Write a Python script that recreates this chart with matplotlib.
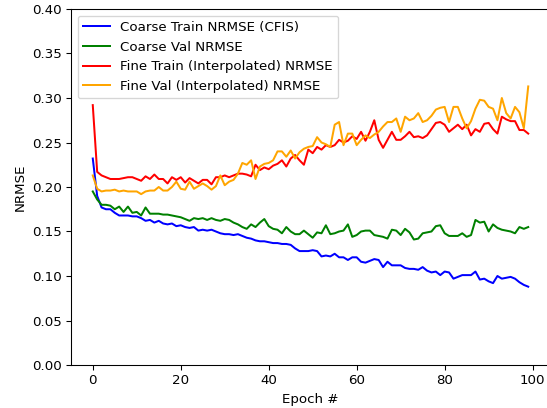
import numpy as np
import matplotlib
matplotlib.use("Agg")
import matplotlib.pyplot as plt

epochs = np.arange(100)

coarse_train = [
    0.232, 0.190, 0.177, 0.175, 0.175, 0.171, 0.168, 0.168, 0.168, 0.167,
    0.167, 0.165, 0.162, 0.163, 0.160, 0.162, 0.159, 0.158, 0.159, 0.156,
    0.157, 0.155, 0.154, 0.155, 0.151, 0.152, 0.151, 0.152, 0.150, 0.148,
    0.147, 0.147, 0.146, 0.147, 0.145, 0.143, 0.142, 0.140, 0.139, 0.139,
    0.138, 0.137, 0.137, 0.136, 0.136, 0.135, 0.131, 0.128, 0.128, 0.128,
    0.129, 0.128, 0.122, 0.123, 0.122, 0.125, 0.121, 0.121, 0.118, 0.121,
    0.121, 0.116, 0.115, 0.117, 0.119, 0.118, 0.110, 0.116, 0.112, 0.112,
    0.112, 0.109, 0.108, 0.108, 0.107, 0.110, 0.106, 0.104, 0.105, 0.101,
    0.105, 0.104, 0.097, 0.099, 0.101, 0.101, 0.101, 0.105, 0.096, 0.097,
    0.094, 0.092, 0.100, 0.097, 0.098, 0.099, 0.097, 0.093, 0.090, 0.088,
]

coarse_val = [
    0.195, 0.186, 0.180, 0.180, 0.179, 0.175, 0.178, 0.172, 0.178, 0.171,
    0.172, 0.168, 0.177, 0.170, 0.170, 0.170, 0.169, 0.169, 0.168, 0.167,
    0.166, 0.164, 0.162, 0.165, 0.164, 0.165, 0.163, 0.165, 0.163, 0.162,
    0.164, 0.163, 0.160, 0.158, 0.155, 0.153, 0.158, 0.155, 0.160, 0.164,
    0.156, 0.153, 0.152, 0.148, 0.155, 0.150, 0.147, 0.147, 0.151, 0.147,
    0.143, 0.149, 0.148, 0.157, 0.147, 0.148, 0.150, 0.151, 0.158, 0.144,
    0.146, 0.150, 0.151, 0.151, 0.146, 0.145, 0.144, 0.142, 0.152, 0.151,
    0.146, 0.153, 0.149, 0.141, 0.142, 0.148, 0.149, 0.150, 0.156, 0.157,
    0.148, 0.145, 0.145, 0.145, 0.148, 0.144, 0.146, 0.163, 0.160, 0.161,
    0.150, 0.158, 0.154, 0.152, 0.151, 0.150, 0.148, 0.155, 0.153, 0.155,
]

fine_train = [
    0.292, 0.217, 0.213, 0.211, 0.209, 0.209, 0.209, 0.210, 0.211, 0.211,
    0.209, 0.207, 0.212, 0.209, 0.214, 0.209, 0.209, 0.204, 0.211, 0.208,
    0.211, 0.205, 0.210, 0.207, 0.204, 0.208, 0.208, 0.203, 0.211, 0.211,
    0.213, 0.211, 0.213, 0.215, 0.215, 0.214, 0.212, 0.225, 0.219, 0.222,
    0.220, 0.224, 0.226, 0.230, 0.223, 0.232, 0.236, 0.230, 0.225, 0.242,
    0.238, 0.245, 0.242, 0.247, 0.245, 0.247, 0.253, 0.250, 0.252, 0.257,
    0.254, 0.262, 0.252, 0.262, 0.275, 0.253, 0.244, 0.253, 0.262, 0.253,
    0.253, 0.257, 0.262, 0.256, 0.257, 0.255, 0.258, 0.265, 0.272, 0.273,
    0.270, 0.262, 0.266, 0.270, 0.265, 0.270, 0.258, 0.265, 0.262, 0.271,
    0.272, 0.265, 0.260, 0.279, 0.276, 0.274, 0.274, 0.264, 0.264, 0.260,
]

fine_val = [
    0.213, 0.198, 0.195, 0.196, 0.196, 0.197, 0.195, 0.196, 0.195, 0.195,
    0.195, 0.192, 0.195, 0.196, 0.196, 0.200, 0.196, 0.196, 0.200, 0.206,
    0.198, 0.197, 0.206, 0.198, 0.201, 0.204, 0.201, 0.197, 0.201, 0.213,
    0.202, 0.206, 0.208, 0.215, 0.227, 0.225, 0.230, 0.209, 0.223, 0.226,
    0.227, 0.230, 0.240, 0.240, 0.234, 0.241, 0.232, 0.239, 0.243, 0.245,
    0.246, 0.256, 0.250, 0.248, 0.245, 0.270, 0.273, 0.247, 0.260, 0.260,
    0.247, 0.253, 0.258, 0.255, 0.259, 0.262, 0.268, 0.273, 0.273, 0.277,
    0.262, 0.279, 0.275, 0.277, 0.283, 0.273, 0.275, 0.280, 0.287, 0.289,
    0.290, 0.273, 0.290, 0.290, 0.277, 0.266, 0.274, 0.288, 0.298, 0.297,
    0.290, 0.288, 0.275, 0.300, 0.283, 0.277, 0.290, 0.284, 0.266, 0.313,
]

fig = plt.figure(figsize=(547 / 96, 408 / 96), dpi=96)
# right part of the axes is cut off in the reference
ax = fig.add_axes([71 / 547, 43 / 408, 479 / 547, 356 / 408])

ax.plot(epochs, coarse_train, color='blue', label='Coarse Train NRMSE (CFIS)')
ax.plot(epochs, coarse_val, color='green', label='Coarse Val NRMSE')
ax.plot(epochs, fine_train, color='red', label='Fine Train (Interpolated) NRMSE')
ax.plot(epochs, fine_val, color='orange', label='Fine Val (Interpolated) NRMSE')

ax.set_ylim(0, 0.40)
ax.set_xlabel('Epoch #')
ax.set_ylabel('NRMSE')
ax.legend(loc='upper left')

fig.savefig('out.png', dpi=96)
